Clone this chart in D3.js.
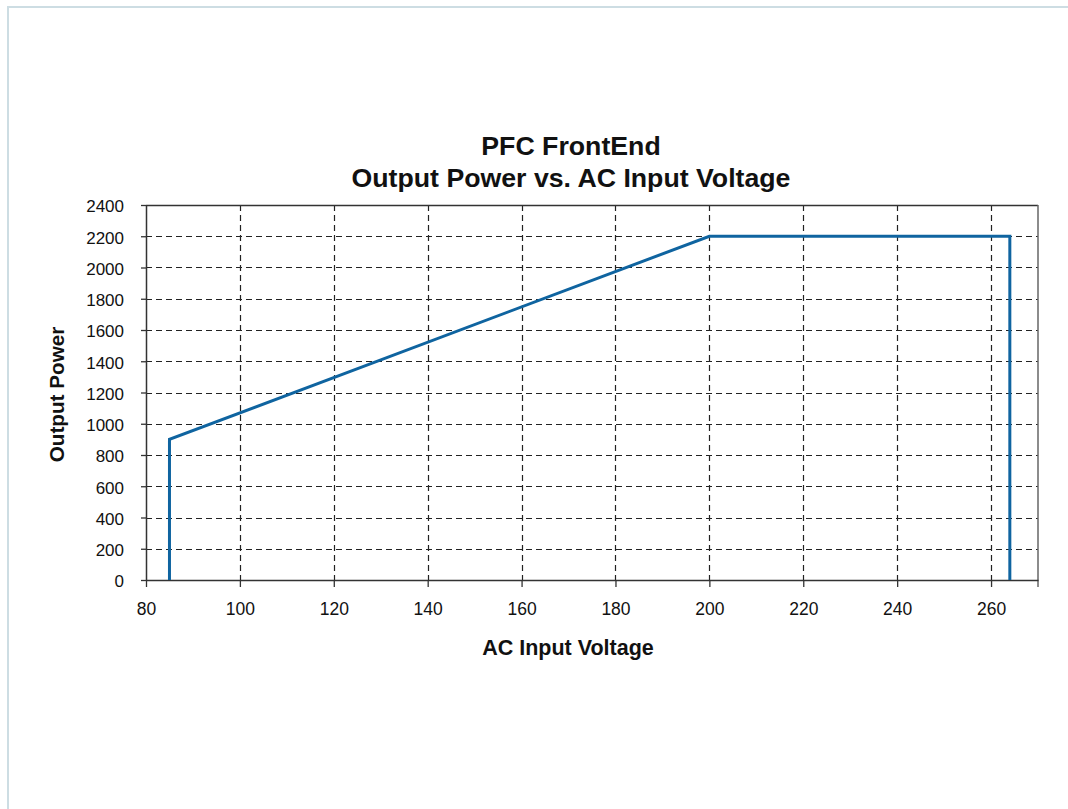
<!DOCTYPE html>
<html>
<head>
<meta charset="utf-8">
<script src="https://cdn.jsdelivr.net/npm/d3@7"></script>
<style>
  body { margin: 0; background: #fff; }
  #frame { position: absolute; left: 7px; top: 6px; width: 1080px; height: 820px;
           border-left: 2px solid #cddde3; border-top: 2px solid #cddde3; box-sizing: border-box; }
</style>
</head>
<body>
<div id="frame"></div>
<div id="chart" style="position:absolute;left:0;top:0;"></div>
<script>
// data
var voltage = [85, 85, 200, 264, 264];
var power = [0, 900, 2200, 2200, 0];
var xTicks = [80, 100, 120, 140, 160, 180, 200, 220, 240, 260];
var yTicks = [0, 200, 400, 600, 800, 1000, 1200, 1400, 1600, 1800, 2000, 2200, 2400];
var titleLines = ["PFC FrontEnd", "Output Power vs. AC Input Voltage"];

var margin = {top: 205, right: 30, bottom: 229, left: 146},
  width = 1068 - margin.left - margin.right,
  height = 809 - margin.top - margin.bottom;

var svg = d3.select("#chart")
.append("svg")
  .attr("width", 1068)
  .attr("height", 809)
  .style("font-family", "'Liberation Sans', Arial, sans-serif")
.append("g")
  .attr("transform", "translate(" + margin.left + "," + margin.top + ")");

var x = d3.scaleLinear().domain([80, 270]).range([0, width]);
var y = d3.scaleLinear().domain([0, 2400]).range([height, 0]);

// dashed grid
svg.append("g").selectAll("line")
  .data(xTicks.filter(function(d) { return d > 80; }))
  .enter().append("line")
  .attr("x1", function(d) { return Math.round(x(d)) + 0.5; })
  .attr("x2", function(d) { return Math.round(x(d)) + 0.5; })
  .attr("y1", 0).attr("y2", height)
  .style("stroke", "#222").style("stroke-width", 1.2).style("stroke-dasharray", "6,4");

svg.append("g").selectAll("line")
  .data(yTicks.filter(function(d) { return d > 0 && d < 2400; }))
  .enter().append("line")
  .attr("y1", function(d) { return Math.round(y(d)) + 0.5; })
  .attr("y2", function(d) { return Math.round(y(d)) + 0.5; })
  .attr("x1", 0).attr("x2", width)
  .style("stroke", "#222").style("stroke-width", 1.2).style("stroke-dasharray", "6,4");

// top and right border
svg.append("line").attr("x1", 0).attr("x2", width).attr("y1", 0.5).attr("y2", 0.5)
  .style("stroke", "#333").style("stroke-width", 1.5);
svg.append("line").attr("x1", width).attr("x2", width).attr("y1", 0).attr("y2", height + 7)
  .style("stroke", "#666").style("stroke-width", 1.5);

// axes
var xAxis = svg.append("g")
  .attr("transform", "translate(0," + height + ")")
  .call(d3.axisBottom(x).tickValues(xTicks).tickSize(7).tickPadding(16).tickSizeOuter(0));
var yAxis = svg.append("g")
  .call(d3.axisLeft(y).tickValues(yTicks).tickFormat(d3.format("d"))
    .tickSize(5).tickPadding(17).tickSizeOuter(0));

[xAxis, yAxis].forEach(function(a) {
  a.selectAll("text").style("fill", "#111")
    .style("font-family", "'Liberation Sans', Arial, sans-serif");
  a.selectAll("line").style("stroke", "#333").style("stroke-width", 1.3);
  a.select(".domain").style("stroke", "#333").style("stroke-width", 1.5);
});
xAxis.selectAll("text").style("font-size", "17.5px");
yAxis.selectAll("text").style("font-size", "17px").attr("dy", "0.4em");

// the curve
var line = d3.line()
  .x(function(d, i) { return x(voltage[i]); })
  .y(function(d) { return y(d); });

svg.append("path")
  .datum(power)
  .attr("d", line)
  .style("fill", "none")
  .style("stroke", "#0f64a0")
  .style("stroke-width", 3);

// titles
svg.selectAll(".title")
  .data(titleLines)
  .enter().append("text")
  .attr("class", "title")
  .attr("x", 571 - margin.left)
  .attr("y", function(d, i) { return -50 + i * 32; })
  .attr("text-anchor", "middle")
  .style("font-size", "26.7px").style("font-weight", "bold").style("fill", "#111")
  .text(function(d) { return d; });

svg.append("text")
  .attr("x", 568 - margin.left)
  .attr("y", height + 75)
  .attr("text-anchor", "middle")
  .style("font-size", "21.5px").style("font-weight", "bold").style("fill", "#111")
  .text("AC Input Voltage");

svg.append("text")
  .attr("transform", "translate(" + (64 - margin.left) + "," + (height / 2 + 2) + ") rotate(-90)")
  .attr("text-anchor", "middle")
  .style("font-size", "20.7px").style("font-weight", "bold").style("fill", "#111")
  .text("Output Power");
</script>
</body>
</html>
